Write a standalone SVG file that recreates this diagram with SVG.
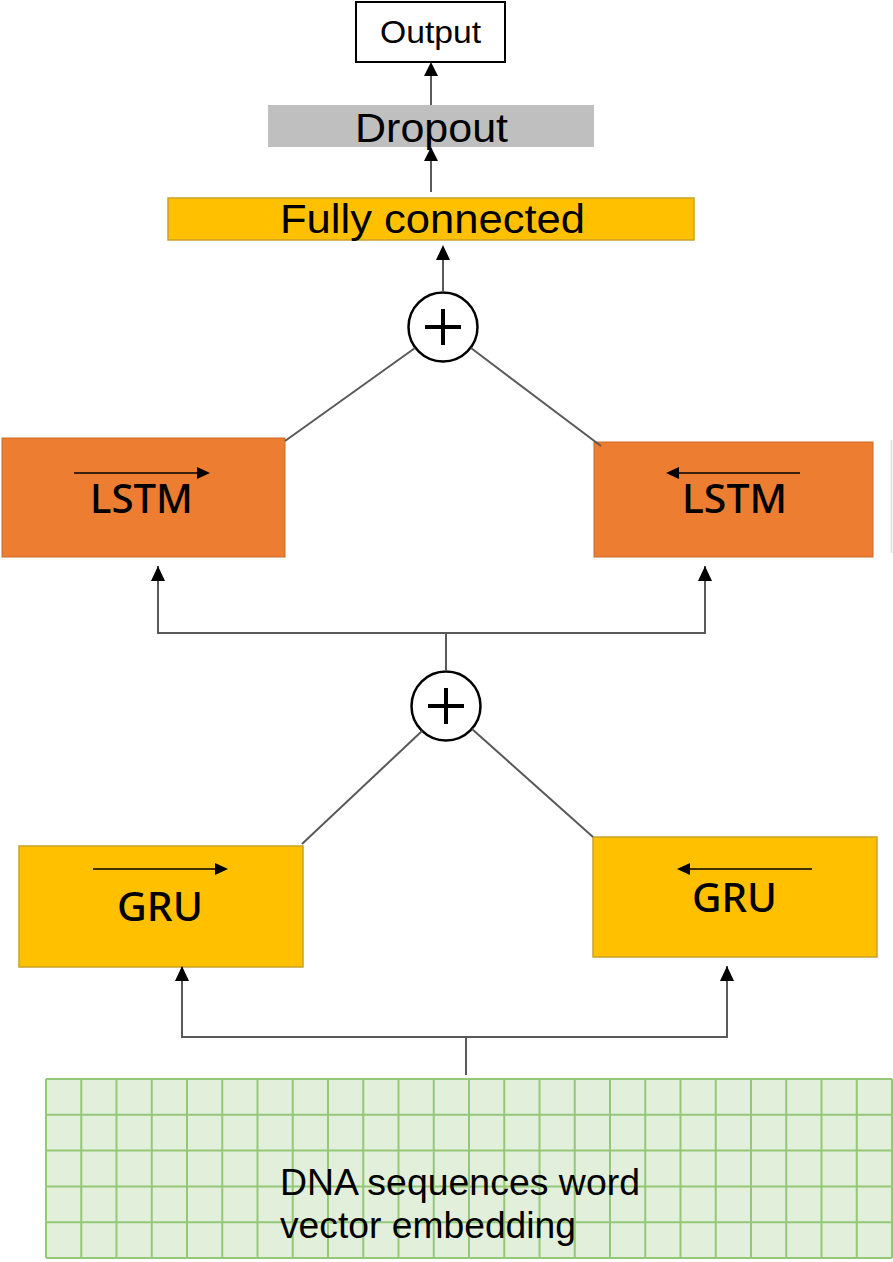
<svg xmlns="http://www.w3.org/2000/svg" width="893" height="1262" viewBox="0 0 893 1262">
<style>
.lbl{font-family:"Liberation Sans",Arial,sans-serif;fill:#000}
.cell{font-family:"Noto Sans","Liberation Sans",sans-serif;font-weight:500;fill:#000}
.conn{stroke:#595959;stroke-width:2;fill:none}
.head{fill:#000}
.lstm{fill:#ED7D31;stroke:#C96A28;stroke-width:1}
.gru{fill:#FFC000;stroke:#C9A227;stroke-width:1.5}
.dir{stroke:#000;stroke-width:1.6}
</style>

<g id="embedding">
<rect x="46" y="1079" width="846" height="179" fill="#E2EFDA"/>
<path d="M46,1079 V1258 M81.25,1079 V1258 M116.5,1079 V1258 M151.75,1079 V1258 M187,1079 V1258 M222.25,1079 V1258 M257.5,1079 V1258 M292.75,1079 V1258 M328,1079 V1258 M363.25,1079 V1258 M398.5,1079 V1258 M433.75,1079 V1258 M469,1079 V1258 M504.25,1079 V1258 M539.5,1079 V1258 M574.75,1079 V1258 M610,1079 V1258 M645.25,1079 V1258 M680.5,1079 V1258 M715.75,1079 V1258 M751,1079 V1258 M786.25,1079 V1258 M821.5,1079 V1258 M856.75,1079 V1258 M892,1079 V1258 M46,1079 H892 M46,1114.8 H892 M46,1150.6 H892 M46,1186.4 H892 M46,1222.2 H892 M46,1258 H892" stroke="#94C778" stroke-width="2" fill="none"/>
<text class="lbl" x="280" y="1195" font-size="37" textLength="360" lengthAdjust="spacingAndGlyphs">DNA sequences word</text>
<text class="lbl" x="280" y="1238" font-size="37" textLength="296" lengthAdjust="spacingAndGlyphs">vector embedding</text>
</g>

<g id="gru_fwd">
<rect class="gru" x="19" y="846" width="284" height="121"/>
<line class="dir" x1="93" y1="869" x2="216" y2="869"/>
<path class="head" d="M228,869 L215,863 L215,875 z"/>
<text class="cell" x="117" y="921" font-size="40" textLength="86" lengthAdjust="spacingAndGlyphs">GRU</text>
</g>

<g id="gru_bwd">
<rect class="gru" x="593" y="837" width="284" height="120"/>
<line class="dir" x1="812" y1="869" x2="689" y2="869"/>
<path class="head" d="M677,869 L690,863 L690,875 z"/>
<text class="cell" x="692" y="912" font-size="40" textLength="85" lengthAdjust="spacingAndGlyphs">GRU</text>
</g>

<g id="lstm_fwd">
<rect class="lstm" x="2" y="438" width="283" height="119"/>
<line class="dir" x1="74" y1="473" x2="198" y2="473"/>
<path class="head" d="M210,473 L197,467 L197,479 z"/>
<text class="cell" x="90" y="513" font-size="40" textLength="103" lengthAdjust="spacingAndGlyphs">LSTM</text>
</g>

<g id="lstm_bwd">
<rect class="lstm" x="594" y="442" width="279" height="115"/>
<line class="dir" x1="800" y1="473" x2="678" y2="473"/>
<path class="head" d="M666,473 L679,467 L679,479 z"/>
<text class="cell" x="682" y="513" font-size="40" textLength="105" lengthAdjust="spacingAndGlyphs">LSTM</text>
</g>

<g id="edge_mark">
<line x1="891.5" y1="440" x2="891.5" y2="553" stroke="#DDDDDD" stroke-width="1.5"/>
</g>

<g id="sum_gru">
<circle cx="446" cy="706" r="34.5" fill="#fff" stroke="#000" stroke-width="2.5"/>
<path d="M428,706 H464 M446,688 V724" stroke="#000" stroke-width="4"/>
</g>

<g id="sum_lstm">
<circle cx="443" cy="327" r="34.5" fill="#fff" stroke="#000" stroke-width="2.5"/>
<path d="M425,327 H461 M443,309 V345" stroke="#000" stroke-width="4"/>
</g>

<g id="fully_connected">
<rect x="168" y="198" width="526" height="42" fill="#FFC000" stroke="#C9A227" stroke-width="1.5"/>
<text class="lbl" x="280" y="233" font-size="40" textLength="305" lengthAdjust="spacingAndGlyphs">Fully connected</text>
</g>

<g id="dropout">
<rect x="268" y="105" width="326" height="42" fill="#BFBFBF"/>
<text class="lbl" x="355" y="142" font-size="40" textLength="153" lengthAdjust="spacingAndGlyphs">Dropout</text>
</g>

<g id="output">
<rect x="356" y="2" width="149" height="60" fill="#fff" stroke="#000" stroke-width="2"/>
<text class="lbl" x="380" y="43" font-size="32" textLength="101" lengthAdjust="spacingAndGlyphs">Output</text>
</g>

<g id="connectors">
<path class="conn" d="M466,1075 V1037"/>
<path class="conn" d="M182,967 V1037 H727 V966"/>
<path class="head" d="M182,966 L175,981 L189,981 z"/>
<path class="head" d="M727,966 L720,981 L734,981 z"/>
<path class="conn" d="M446,671 V633"/>
<path class="conn" d="M158,566 V633 H705 V566"/>
<path class="head" d="M158,566 L151,581 L165,581 z"/>
<path class="head" d="M705,566 L698,581 L712,581 z"/>
<line class="conn" x1="422" y1="731" x2="302" y2="844" stroke-width="1.5"/>
<line class="conn" x1="472" y1="729" x2="593" y2="837" stroke-width="1.5"/>
<line class="conn" x1="415" y1="348" x2="285" y2="441" stroke-width="1.5"/>
<line class="conn" x1="471" y1="348" x2="601" y2="446" stroke-width="1.5"/>
<path class="conn" d="M443,292 V258"/>
<path class="head" d="M443,245 L436,260 L450,260 z"/>
<path class="conn" d="M431,192 V158"/>
<path class="head" d="M431,147 L424,161 L438,161 z"/>
<path class="conn" d="M431,105 V73"/>
<path class="head" d="M431,62 L424,76 L438,76 z"/>
</g>
</svg>
